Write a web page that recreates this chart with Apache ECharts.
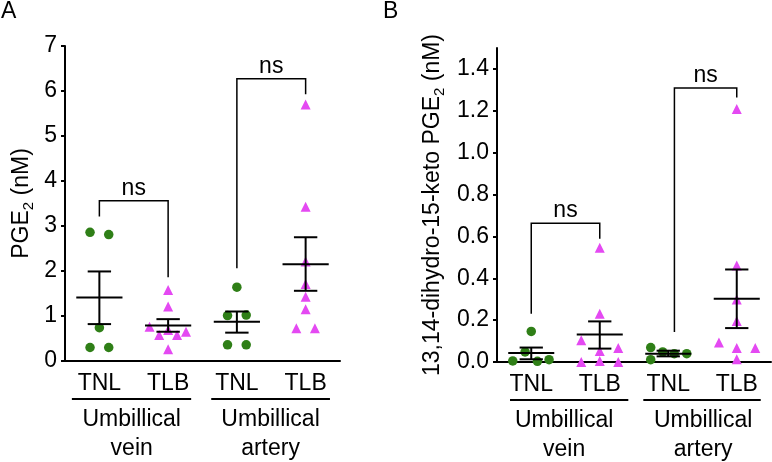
<!DOCTYPE html>
<html>
<head>
<meta charset="utf-8">
<script src="https://cdn.jsdelivr.net/npm/echarts@6/dist/echarts.min.js"></script>
<style>html,body{margin:0;padding:0;background:#fff;}#c{width:772px;height:462px;}</style>
</head>
<body>
<div id="c"></div>
<script>
// ---------- data ----------
const categories = ['TNL', 'TLB', 'TNL', 'TLB'];
const groupLabels = [['Umbillical', 'vein'], ['Umbillical', 'artery']];
const yTicksA = [0, 1, 2, 3, 4, 5, 6, 7];
const yTicksB = [0, 0.2, 0.4, 0.6, 0.8, 1.0, 1.2, 1.4];

// Panel A: PGE2 (nM)
const pgeTNLvein   = [2.86, 2.81, 0.74, 0.30, 0.30];
const pgeTLBvein   = [1.58, 1.21, 0.76, 0.58, 0.69, 0.58, 0.65, 0.26];
const pgeTNLartery = [1.64, 1.01, 1.02, 0.36, 0.36];
const pgeTLBartery = [5.70, 3.43, 2.21, 1.71, 1.43, 1.15, 0.73, 0.73];
const pgeMean = [1.41, 0.79, 0.87, 2.15];
const pgeSemLow = [0.82, 0.65, 0.63, 1.56];
const pgeSemHigh = [1.99, 0.93, 1.10, 2.75];
// brackets: [x1, x2, top, leftEnd, rightEnd]
const pgeBrackets = [[0, 1, 3.56, 3.21, 1.86], [2, 3, 6.27, 2.06, 5.93]];

// Panel B: 13,14-dihydro-15-keto PGE2 (nM)
const ketoTNLvein   = [0.146, 0.048, 0.005, 0.003, 0.011];
const ketoTLBvein   = [0.546, 0.231, 0.104, 0.052, 0.067, 0.000, 0.005, 0.000];
const ketoTNLartery = [0.069, 0.011, 0.048, 0.040, 0.040];
const ketoTLBartery = [1.209, 0.461, 0.298, 0.196, 0.093, 0.067, 0.067, 0.013];
const ketoMean = [0.043, 0.131, 0.040, 0.302];
const ketoSemLow = [0.013, 0.064, 0.027, 0.162];
const ketoSemHigh = [0.069, 0.194, 0.054, 0.442];
const ketoBrackets = [[0, 1, 0.663, 0.231, 0.589], [2.09, 3, 1.309, 0.143, 1.264]];

// horizontal scatter (beeswarm) offsets, in category widths
const jitterA = [
  [-0.136, 0.136, 0, -0.136, 0.136],
  [0, 0, -0.27, -0.13, 0, 0.13, 0.26, 0],
  [0, -0.136, 0.136, -0.136, 0.136],
  [0, 0, 0, 0, 0, 0, -0.135, 0.135]
];
const jitterB = [
  [0, -0.09, -0.27, 0.09, 0.26],
  [0, 0, -0.27, 0, 0.27, -0.27, 0, 0.27],
  [-0.256, -0.256, -0.081, 0.088, 0.27],
  [0, 0, 0, 0, -0.26, 0, 0.27, 0]
];
// group underline spans: [xStart, xEnd, xCenter]
const groupSpansA = [[-0.40, 1.335, 0.47], [1.627, 3.354, 2.49]];
const groupSpansB = [[-0.31, 1.417, 0.48], [1.636, 3.35, 2.51]];

// ---------- style ----------
const FONT = '"Liberation Sans", Arial, Helvetica, sans-serif';
const FS = 23;
const GREEN = '#2f7f17';
const MAGENTA = '#e449f2';

const seriesA = [pgeTNLvein, pgeTLBvein, pgeTNLartery, pgeTLBartery];
const seriesB = [ketoTNLvein, ketoTLBvein, ketoTNLartery, ketoTLBartery];

function scatterSeries(vals, jit, axis) {
  return vals.map((arr, g) => ({
    type: 'scatter',
    xAxisIndex: axis, yAxisIndex: axis,
    symbol: g % 2 === 0 ? 'circle' : 'triangle',
    symbolSize: g % 2 === 0 ? 9.5 : 10,
    itemStyle: { color: g % 2 === 0 ? GREEN : MAGENTA, opacity: 1 },
    data: arr.map((v, i) => [g + jit[g][i], v]),
    z: 2,
    silent: true
  }));
}

function errRender(params, api) {
  const g = api.value(0), m = api.value(1), lo = api.value(2), hi = api.value(3);
  const pm = api.coord([g, m]), pl = api.coord([g, lo]), ph = api.coord([g, hi]);
  const unit = api.size([1, 0])[0];
  const hw = unit * 0.336, cw = unit * 0.17;
  const st = { stroke: '#000', lineWidth: 2 };
  return {
    type: 'group', children: [
      { type: 'line', shape: { x1: pm[0] - hw, y1: pm[1], x2: pm[0] + hw, y2: pm[1] }, style: st },
      { type: 'line', shape: { x1: pl[0], y1: pl[1], x2: ph[0], y2: ph[1] }, style: st },
      { type: 'line', shape: { x1: pl[0] - cw, y1: pl[1], x2: pl[0] + cw, y2: pl[1] }, style: st },
      { type: 'line', shape: { x1: ph[0] - cw, y1: ph[1], x2: ph[0] + cw, y2: ph[1] }, style: st }
    ]
  };
}

function errSeries(mean, lo, hi, axis) {
  return {
    type: 'custom', xAxisIndex: axis, yAxisIndex: axis, z: 3, silent: true, clip: false,
    renderItem: errRender,
    data: mean.map((m, g) => [g, m, lo[g], hi[g]])
  };
}

function bracketSeries(br, axis) {
  return {
    type: 'custom', xAxisIndex: axis, yAxisIndex: axis, z: 3, silent: true, clip: false,
    renderItem: function (params, api) {
      const x1 = api.value(0), x2 = api.value(1), t = api.value(2), l = api.value(3), r = api.value(4);
      const a = api.coord([x1, l]), b = api.coord([x1, t]), c = api.coord([x2, t]), d = api.coord([x2, r]);
      return {
        type: 'group', children: [
          { type: 'polyline', shape: { points: [a, b, c, d] }, style: { stroke: '#000', lineWidth: 1.5, fill: null } },
          { type: 'text', style: { text: 'ns', x: (b[0] + c[0]) / 2, y: b[1] - 1, align: 'center', verticalAlign: 'bottom', font: FS + 'px ' + FONT, fill: '#000' } }
        ]
      };
    },
    data: br
  };
}

function groupSeries(spans, axis) {
  return {
    type: 'custom', xAxisIndex: axis, yAxisIndex: axis, z: 3, silent: true, clip: false,
    renderItem: function (params, api) {
      const s = api.coord([api.value(0), 0]), e = api.coord([api.value(1), 0]), c = api.coord([api.value(2), 0]);
      const lbl = groupLabels[params.dataIndex];
      return {
        type: 'group', children: [
          { type: 'line', shape: { x1: s[0], y1: s[1] + 38, x2: e[0], y2: e[1] + 38 }, style: { stroke: '#000', lineWidth: 2 } },
          { type: 'text', style: { text: lbl[0], x: c[0], y: c[1] + 59, align: 'center', verticalAlign: 'middle', font: FS + 'px ' + FONT, fill: '#000' } },
          { type: 'text', style: { text: lbl[1], x: c[0], y: c[1] + 88, align: 'center', verticalAlign: 'middle', font: FS + 'px ' + FONT, fill: '#000' } }
        ]
      };
    },
    data: spans
  };
}

const axisLineStyle = { show: true, onZero: false, lineStyle: { color: '#000', width: 2 } };

function xAxisCfg(grid) {
  return {
    type: 'value', gridIndex: grid, min: -0.5, max: 3.5,
    axisLine: axisLineStyle,
    axisTick: { show: false },
    splitLine: { show: false },
    axisLabel: {
      customValues: [0, 1, 2, 3],
      formatter: v => categories[Math.round(v)],
      color: '#000', fontSize: FS, fontFamily: FONT, margin: 11
    }
  };
}

const nameRich = {
  a: { fontSize: FS, fontFamily: FONT, color: '#000', lineHeight: 28 },
  s: { fontSize: 15, fontFamily: FONT, color: '#000', lineHeight: 15, verticalAlign: 'bottom' }
};

const option = {
  animation: false,
  backgroundColor: '#fff',
  title: [
    { text: 'A', left: 1, top: 0, padding: 0, textStyle: { fontSize: 23, fontWeight: 'normal', color: '#000', fontFamily: FONT } },
    { text: 'B', left: 383, top: 0, padding: 0, textStyle: { fontSize: 23, fontWeight: 'normal', color: '#000', fontFamily: FONT } }
  ],
  grid: [
    { left: 65, top: 46, width: 275, height: 315 },
    { left: 497, top: 48, width: 274, height: 314 }
  ],
  xAxis: [xAxisCfg(0), xAxisCfg(1)],
  yAxis: [
    {
      type: 'value', gridIndex: 0, min: 0, max: 7, interval: 1,
      axisLine: axisLineStyle,
      axisTick: { show: true, length: 4, lineStyle: { color: '#000', width: 2 }, customValues: yTicksA },
      splitLine: { show: false },
      axisLabel: { customValues: yTicksA, color: '#000', fontSize: FS, fontFamily: FONT, margin: 8 },
      name: '{a|PGE}{s|2}{a| (nM)}',
      nameLocation: 'middle', nameGap: 29,
      nameTextStyle: { rich: nameRich }
    },
    {
      type: 'value', gridIndex: 1, min: 0, max: 1.5,
      axisLine: axisLineStyle,
      axisTick: { show: true, length: 4, lineStyle: { color: '#000', width: 2 }, customValues: yTicksB },
      splitLine: { show: false },
      axisLabel: { customValues: yTicksB, formatter: v => v.toFixed(1), color: '#000', fontSize: FS, fontFamily: FONT, margin: 8 },
      name: '{a|13,14-dihydro-15-keto PGE}{s|2}{a| (nM)}',
      nameLocation: 'middle', nameGap: 50,
      nameTextStyle: { rich: nameRich }
    }
  ],
  series: [].concat(
    scatterSeries(seriesA, jitterA, 0),
    scatterSeries(seriesB, jitterB, 1),
    [errSeries(pgeMean, pgeSemLow, pgeSemHigh, 0), errSeries(ketoMean, ketoSemLow, ketoSemHigh, 1)],
    [bracketSeries(pgeBrackets, 0), bracketSeries(ketoBrackets, 1)],
    [groupSeries(groupSpansA, 0), groupSeries(groupSpansB, 1)]
  )
};

const chart = echarts.init(document.getElementById('c'), null, { renderer: 'canvas' });
chart.setOption(option);
</script>
</body>
</html>
